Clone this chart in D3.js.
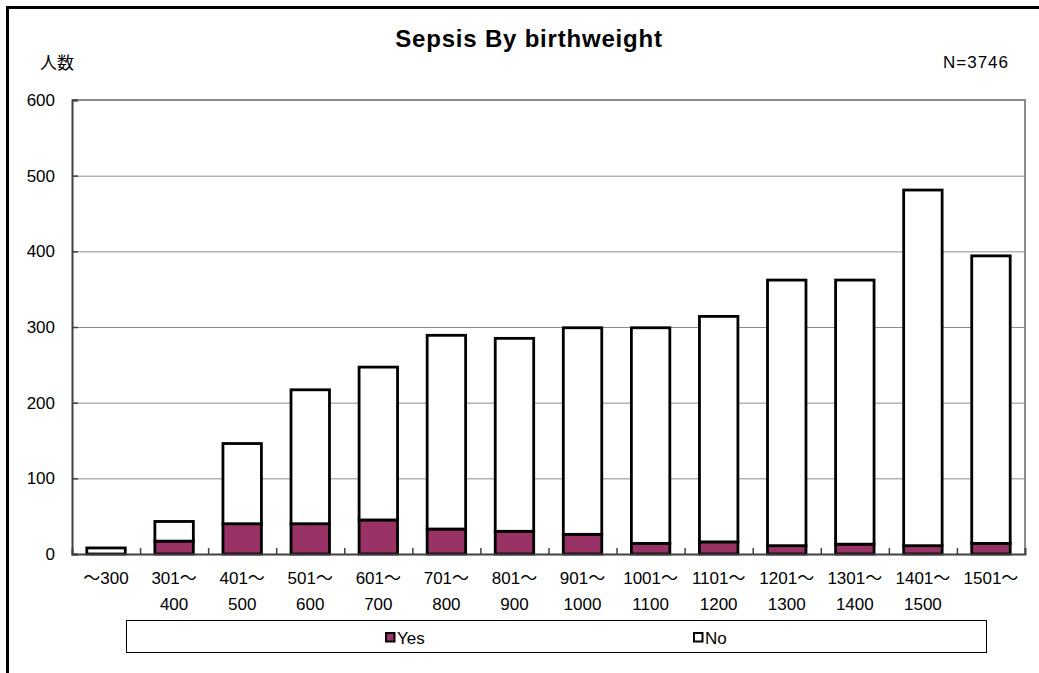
<!DOCTYPE html>
<html>
<head>
<meta charset="utf-8">
<script src="https://cdn.jsdelivr.net/npm/d3@7"></script>
<style>
  html, body { margin: 0; padding: 0; background: #fff; }
  svg { display: block; }
  text { font-family: "Liberation Sans", Arial, "Noto Sans CJK JP", sans-serif; }
</style>
</head>
<body>
<svg id="chart" width="1039" height="673"></svg>
<script>
// ---- data ----
const categories = ["～300", "301～|400", "401～|500", "501～|600", "601～|700", "701～|800", "801～|900",
  "901～|1000", "1001～|1100", "1101～|1200", "1201～|1300", "1301～|1400", "1401～|1500", "1501～"];
const yesValues = [0, 17, 40, 40, 45, 33, 30, 26, 14, 16, 11, 13, 11, 14];
const noValues  = [8, 26, 106, 177, 202, 256, 255, 273, 285, 298, 351, 349, 470, 380];
const yTicks = [0, 100, 200, 300, 400, 500, 600];
const seriesNames = ["Yes", "No"];
const seriesColors = ["#993366", "#ffffff"];
const titleText = "Sepsis By birthweight";
const yAxisTitle = "人数";
const nText = "N=3746";

// ---- layout ----
const svg = d3.select("#chart");
const W = 1039, H = 673;
const plot = { left: 72, right: 1025, top: 100, bottom: 554 };

// outer frame
svg.append("rect")
  .attr("x", 7.5).attr("y", 7.5)
  .attr("width", W + 20).attr("height", H + 20)
  .attr("fill", "none").attr("stroke", "#000").attr("stroke-width", 3);

const x = d3.scaleBand().domain(categories).range([plot.left, plot.right]).padding(0);
const y = d3.scaleLinear().domain([0, 600]).range([plot.bottom, plot.top]);

// gridlines
svg.append("g").selectAll("line").data(yTicks.filter(d => d > 0 && d < 600)).join("line")
  .attr("x1", plot.left).attr("x2", plot.right)
  .attr("y1", d => y(d) + 0.5).attr("y2", d => y(d) + 0.5)
  .attr("stroke", "#8c8c8c").attr("stroke-width", 1);

// plot border top/right
svg.append("path")
  .attr("d", `M${plot.left},${plot.top}H${plot.right}V${plot.bottom}`)
  .attr("fill", "none").attr("stroke", "#8c8c8c").attr("stroke-width", 2);

// stacked bars
const rows = categories.map((c, i) => ({ cat: c, Yes: yesValues[i], No: noValues[i] }));
const stack = d3.stack().keys(seriesNames)(rows);
const barW = x.bandwidth() * 0.565;
const gBars = svg.append("g");
stack.forEach((layer, li) => {
  gBars.append("g").selectAll("rect").data(layer).join("rect")
    .filter(d => d[1] - d[0] > 0)
    .attr("x", d => x(d.data.cat) + (x.bandwidth() - barW) / 2)
    .attr("y", d => y(d[1]))
    .attr("width", barW)
    .attr("height", d => y(d[0]) - y(d[1]))
    .attr("fill", seriesColors[li])
    .attr("stroke", "#000").attr("stroke-width", 2.8);
});

// y axis
const yAxis = d3.axisLeft(y).tickValues(yTicks).tickSize(-6).tickPadding(17);
const gy = svg.append("g").attr("transform", `translate(${plot.left},0)`).call(yAxis);
gy.select(".domain").attr("stroke", "#404040").attr("stroke-width", 2);
gy.selectAll(".tick line").attr("stroke", "#404040").attr("stroke-width", 1.5);
gy.selectAll(".tick text").attr("font-size", 17).attr("fill", "#000")
  .attr("font-family", "'Liberation Sans', Arial, sans-serif");

// x axis (ticks at category boundaries)
const xAxisLine = d3.axisBottom(d3.scaleLinear().domain([0, categories.length]).range([plot.left, plot.right]))
  .tickValues(d3.range(1, categories.length)).tickSize(-6).tickFormat("");
const gx = svg.append("g").attr("transform", `translate(0,${plot.bottom})`).call(xAxisLine);
gx.select(".domain").attr("stroke", "#404040").attr("stroke-width", 2);
gx.selectAll(".tick line").attr("stroke", "#404040").attr("stroke-width", 1.5);

// x labels (two lines)
const gxl = svg.append("g");
categories.forEach(c => {
  const parts = c.split("|");
  const t = gxl.append("text")
    .attr("x", x(c) + x.bandwidth() / 2)
    .attr("y", 584)
    .attr("text-anchor", "middle")
    .attr("font-size", 17).attr("fill", "#000");
  parts.forEach((p, i) => {
    t.append("tspan").attr("x", x(c) + x.bandwidth() / 2).attr("dy", i === 0 ? 0 : 26).text(p);
  });
});

// title
svg.append("text").attr("x", 529).attr("y", 47).attr("text-anchor", "middle")
  .attr("font-size", 24).attr("font-weight", "bold").attr("letter-spacing", 0.8)
  .attr("fill", "#000").text(titleText);
svg.append("text").attr("x", 40).attr("y", 69)
  .attr("font-size", 17).attr("fill", "#000")
  .attr("font-family", "'Noto Sans CJK JP', sans-serif").text(yAxisTitle);
svg.append("text").attr("x", 1009).attr("y", 68).attr("text-anchor", "end")
  .attr("font-size", 17).attr("letter-spacing", 1).attr("fill", "#000").text(nText);

// legend
svg.append("rect").attr("x", 126.5).attr("y", 620.5).attr("width", 860).attr("height", 32)
  .attr("fill", "#fff").attr("stroke", "#000").attr("stroke-width", 1);
const legendX = [385, 693];
seriesNames.forEach((s, i) => {
  const g = svg.append("g").attr("transform", `translate(${legendX[i]},637)`);
  g.append("rect").attr("x", 1).attr("y", -4).attr("width", 8.5).attr("height", 8.5)
    .attr("fill", seriesColors[i]).attr("stroke", "#000").attr("stroke-width", 2);
  g.append("text").attr("x", 12).attr("y", 6.5).attr("font-size", 17).attr("fill", "#000").text(s);
});
</script>
</body>
</html>
